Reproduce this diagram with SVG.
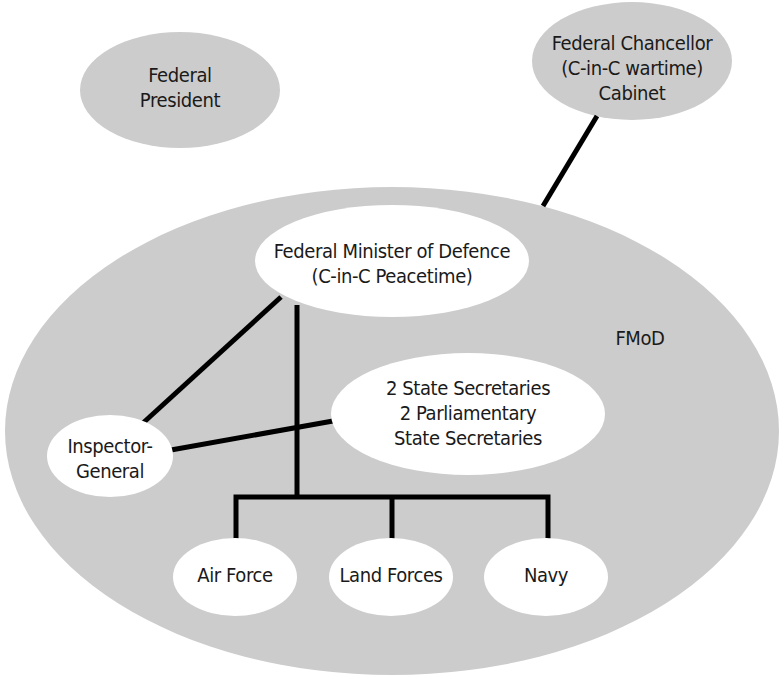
<svg xmlns="http://www.w3.org/2000/svg" width="784" height="678" viewBox="0 0 784 678">
  <style>
    .grey { fill: #cccccc; }
    .white { fill: #ffffff; }
    .link { stroke: #000000; stroke-width: 5; fill: none; stroke-linejoin: miter; stroke-linecap: butt; }
    text { font-family: "DejaVu Sans Condensed", "DejaVu Sans", sans-serif; font-stretch: condensed; font-size: 20px; letter-spacing: -0.4px; fill: #1a1a1a; text-anchor: middle; }
  </style>
  <rect width="784" height="678" fill="#ffffff"/>

  <!-- ministry boundary -->
  <g id="fmod">
    <ellipse class="grey" cx="392" cy="431" rx="387" ry="244"/>
    <text x="640" y="345">FMoD</text>
  </g>

  <g id="federal-president">
    <ellipse class="grey" cx="180" cy="90" rx="100" ry="58"/>
    <text x="180" y="82">Federal</text>
    <text x="180" y="107">President</text>
  </g>

  <g id="federal-chancellor">
    <ellipse class="grey" cx="632" cy="61" rx="100" ry="59"/>
    <text x="632" y="50">Federal Chancellor</text>
    <text x="632" y="75">(C-in-C wartime)</text>
    <text x="632" y="100">Cabinet</text>
  </g>

  <!-- connectors -->
  <g id="connectors">
    <line class="link" x1="597" y1="116" x2="543" y2="206"/>
    <line class="link" x1="281" y1="297" x2="143" y2="423"/>
    <line class="link" x1="171" y1="450" x2="333" y2="421"/>
    <polyline class="link" points="297,305 297,497"/>
    <polyline class="link" points="236,539 236,497 548,497 548,539"/>
    <line class="link" x1="392" y1="497" x2="392" y2="539"/>
  </g>

  <g id="minister">
    <ellipse class="white" cx="392" cy="261" rx="137" ry="56"/>
    <text x="392" y="258">Federal Minister of Defence</text>
    <text x="392" y="283">(C-in-C Peacetime)</text>
  </g>

  <g id="state-secretaries">
    <ellipse class="white" cx="468" cy="414" rx="137" ry="61"/>
    <text x="468" y="395">2 State Secretaries</text>
    <text x="468" y="420">2 Parliamentary</text>
    <text x="468" y="445">State Secretaries</text>
  </g>

  <g id="inspector-general">
    <ellipse class="white" cx="110" cy="456" rx="63" ry="41"/>
    <text x="110" y="453">Inspector-</text>
    <text x="110" y="478">General</text>
  </g>

  <g id="air-force">
    <ellipse class="white" cx="235" cy="577" rx="62" ry="39"/>
    <text x="235" y="582">Air Force</text>
  </g>

  <g id="land-forces">
    <ellipse class="white" cx="391" cy="577" rx="62" ry="39"/>
    <text x="391" y="582">Land Forces</text>
  </g>

  <g id="navy">
    <ellipse class="white" cx="546" cy="577" rx="62" ry="39"/>
    <text x="546" y="582">Navy</text>
  </g>
</svg>
